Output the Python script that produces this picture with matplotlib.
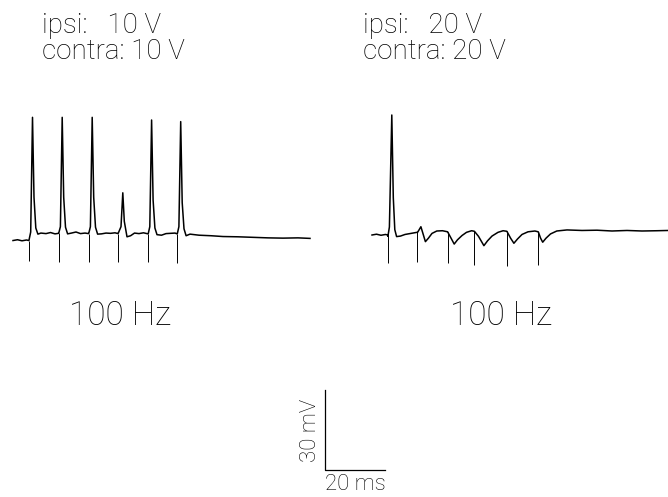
import numpy as np
import matplotlib.pyplot as plt

plt.rcParams['font.family'] = ['Roboto', 'Liberation Sans', 'DejaVu Sans']
plt.rcParams['font.weight'] = 'light'

# ---- left recording (ipsi 10 V, contra 10 V), time in ms, potential in mV
left_t = [0, 1.5, 3.0, 4.5, 5.3,
          5.4, 5.9, 6.5, 7.0, 7.6, 8.3, 9.3, 11.0, 12.5, 14.0, 15.2,
          15.3, 15.8, 16.4, 16.9, 17.5, 18.2, 19.5, 21.0, 22.5, 24.0, 25.2,
          25.3, 25.8, 26.4, 26.9, 27.5, 28.2, 29.5, 31.0, 32.5, 34.0, 35.0,
          35.1, 36.0, 36.6, 37.1, 38.0, 39.2, 40.5, 42.0, 43.5, 45.0,
          45.1, 45.6, 46.2, 46.7, 47.3, 48.0, 49.5, 51.0, 52.5, 54.0, 54.7,
          54.8, 55.3, 55.9, 56.4, 57.0, 57.7, 59.0, 62.0, 66.0, 70.0, 75.0,
          80.0, 85.0, 90.0, 95.0, 99.0]
left_v = [-0.2, 0.1, -0.3, 0.0, -0.2,
          0.3, 3.0, 46.0, 16.0, 4.5, 2.2, 2.6, 2.4, 2.8, 2.3, 2.5,
          2.8, 5.0, 46.0, 16.0, 4.8, 2.3, 2.6, 3.0, 2.4, 2.6, 2.4,
          2.7, 5.0, 46.0, 16.0, 4.8, 2.2, 2.3, 2.6, 2.5, 2.7, 2.4,
          2.6, 5.0, 17.7, 7.0, 1.2, 1.6, 2.6, 2.4, 2.7, 2.3,
          2.5, 5.0, 45.0, 15.0, 4.5, 2.0, 1.8, 2.4, 2.5, 2.6, 2.3,
          2.5, 5.0, 44.4, 14.0, 4.2, 1.6, 2.2, 1.8, 1.6, 1.3, 1.2,
          1.0, 0.8, 0.7, 0.8, 0.6]
left_stim = [5.3, 15.2, 25.2, 35.0, 45.0, 54.7]
left_stim_depth = [-8.0, -8.2, -8.2, -8.3, -8.3, -8.6]

# ---- right recording (ipsi 20 V, contra 20 V)
right_t = [0, 1.5, 3.0, 4.5, 5.2,
           5.3, 5.8, 6.6, 7.1, 7.6, 8.2, 9.5, 11.0, 13.0, 15.0,
           15.2, 16.3, 17.0, 17.8, 18.8, 20.0, 21.6, 23.5, 25.2,
           25.3, 26.5, 27.4, 28.5, 30.0, 31.5, 33.2, 34.1,
           34.2, 35.5, 37.3, 38.5, 40.0, 42.0, 43.7, 44.9,
           45.0, 46.2, 47.3, 48.5, 50.0, 52.0, 54.3, 55.4,
           55.5, 56.2, 56.9, 58.0, 59.5, 61.6, 65.0, 70.0, 75.0,
           80.0, 85.0, 90.0, 95.0, 98.7]
right_v = [0.0, 0.3, -0.1, 0.2, 0.0,
           -0.5, 3.0, 45.0, 14.0, 2.0, -0.6, -0.4, 0.2, 0.6, 1.0,
           1.0, 3.1, 0.5, -2.5, -1.2, 0.6, 1.5, 1.6, 1.2,
           1.0, -1.5, -3.4, -1.8, -0.2, 1.0, 1.6, 1.4,
           1.3, -0.5, -4.0, -2.2, -0.4, 1.0, 1.6, 1.4,
           1.3, -1.2, -3.1, -1.5, 0.2, 1.2, 1.5, 1.2,
           1.0, -1.2, -2.7, -1.2, 0.4, 1.5, 1.9, 1.7, 1.8,
           1.5, 1.7, 1.5, 1.6, 1.7]
right_stim = [5.2, 15.1, 25.2, 34.1, 44.9, 55.4]
right_stim_depth = [-10.6, -10.0, -10.6, -11.2, -11.5, -11.2]

scale_ms = 20
scale_mv = 30

# figure geometry: 3 px per ms, 80 px per 30 mV
px_ms = 3.0
px_mv = 80 / 30
W, H = 668, 497

fig = plt.figure(figsize=(W / 100, H / 100), dpi=100)
ax = fig.add_axes([0, 0, 1, 1])
ax.set_xlim(0, W / px_ms)
ax.set_ylim(0, H / px_mv)
ax.axis('off')


def draw_trace(t, v, stim, depth, x0, y0):
    ax.plot(np.array(t) + x0, np.array(v) + y0, color='black', lw=1.1)
    base = np.interp(stim, t, v)
    ax.vlines(np.array(stim) + x0, np.array(depth) + y0, base + y0,
              color='black', lw=0.7)


draw_trace(left_t, left_v, left_stim, left_stim_depth,
           13 / px_ms, (H - 240) / px_mv)
draw_trace(right_t, right_v, right_stim, right_stim_depth,
           372 / px_ms, (H - 235) / px_mv)

# scale bar
sx, sy = 325 / px_ms, (H - 470) / px_mv
ax.plot([sx, sx, sx + scale_ms], [sy + scale_mv, sy, sy], color='black', lw=0.9)
ax.text(sx - 1.3, sy + scale_mv / 2, '%d mV' % scale_mv, rotation=90,
        ha='right', va='center', fontsize=16)
ax.text(sx + scale_ms / 2, sy - 1.5, '%d ms' % scale_ms,
        ha='center', va='top', fontsize=16)

# labels
fs = 20
fig.text(42 / W, 1 - 33 / H, 'ipsi:   10 V', fontsize=fs, va='baseline')
fig.text(42 / W, 1 - 59 / H, 'contra: 10 V', fontsize=fs, va='baseline')
fig.text(363 / W, 1 - 33 / H, 'ipsi:   20 V', fontsize=fs, va='baseline')
fig.text(363 / W, 1 - 59 / H, 'contra: 20 V', fontsize=fs, va='baseline')

fig.text(120 / W, 1 - 325 / H, '100 Hz', fontsize=24, ha='center', va='baseline')
fig.text(501 / W, 1 - 325 / H, '100 Hz', fontsize=24, ha='center', va='baseline')

fig.savefig('out.png', dpi=100)
